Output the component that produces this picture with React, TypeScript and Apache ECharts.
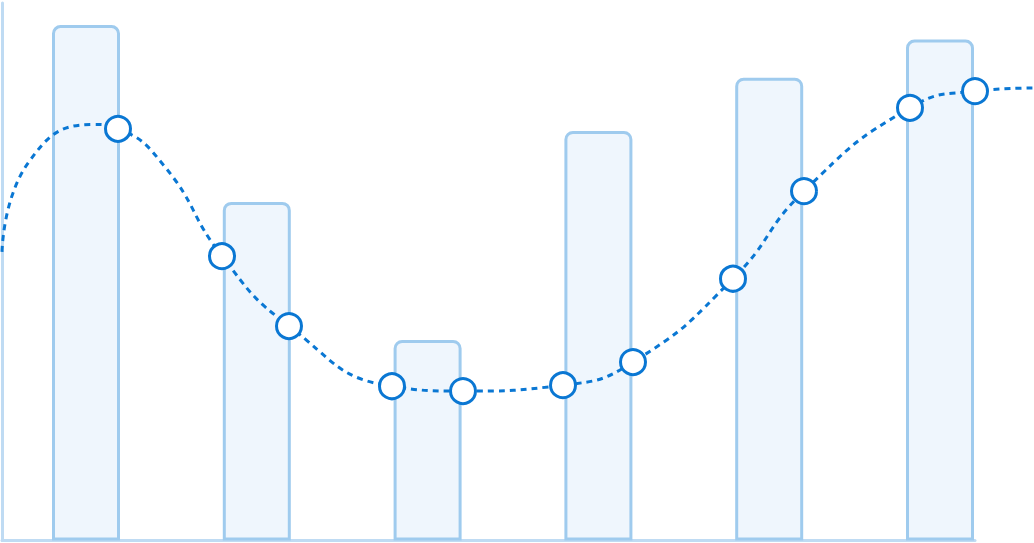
import React, { useEffect, useRef } from "react";
import * as echarts from "echarts";

// Bar categories and values (percent of plot height)
const categories = ["A", "B", "C", "D", "E", "F"];
const barValues = [95.9, 63.0, 37.3, 76.2, 86.1, 93.2];

// Line points: x position along the plot (0..1032), y value (percent), marker shown?
const lineX = [0, 26, 91, 116, 163, 220, 287, 390, 461, 561, 631, 731, 802, 908, 973, 1032];
const lineY = [53.7, 70.2, 77.4, 76.6, 69.5, 52.9, 39.9, 28.7, 27.8, 28.9, 33.2, 48.7, 65.0, 80.5, 83.6, 84.2];
const lineMarker = [false, false, false, true, false, true, true, true, true, true, true, true, true, true, true, false];

const AXIS_COLOR = "#bfdbf3";
const LINE_COLOR = "#0a77d3";

export default function App() {
  const ref = useRef<HTMLDivElement>(null);

  useEffect(() => {
    if (!ref.current) return;
    const chart = echarts.init(ref.current, undefined, { renderer: "svg" });

    const lineData = lineX.map((x, i) =>
      lineMarker[i]
        ? { value: [x, lineY[i]] }
        : { value: [x, lineY[i]], symbol: "none" }
    );

    const hidden = {
      axisLine: { show: false },
      axisTick: { show: false },
      axisLabel: { show: false },
      splitLine: { show: false },
    };

    chart.setOption({
      animation: false,
      grid: [
        { left: 0.6, right: 8.6, top: 3, bottom: 2.5 },
        { left: 2, right: 0, top: 3, bottom: 2.5 },
        { left: 2, right: 59, top: 3, bottom: 2.5 },
      ],
      xAxis: [
        { type: "category", gridIndex: 0, data: categories, show: false },
        { type: "value", gridIndex: 1, min: 0, max: 1032, show: false },
        {
          type: "value",
          gridIndex: 2,
          min: 0,
          max: 1,
          ...hidden,
          axisLine: { show: true, lineStyle: { color: AXIS_COLOR, width: 3 } },
        },
      ],
      yAxis: [
        { type: "value", gridIndex: 0, min: 0, max: 100, show: false },
        { type: "value", gridIndex: 1, min: 0, max: 100, show: false },
        {
          type: "value",
          gridIndex: 2,
          min: 0,
          max: 100,
          ...hidden,
          axisLine: { show: true, lineStyle: { color: AXIS_COLOR, width: 3 } },
        },
      ],
      series: [
        {
          type: "bar",
          xAxisIndex: 0,
          yAxisIndex: 0,
          data: barValues,
          barWidth: 68,
          itemStyle: {
            color: "#eff6fd",
            borderColor: "#9fcbee",
            borderWidth: 3,
            borderRadius: [7, 7, 0, 0],
          },
          silent: true,
        },
        {
          type: "line",
          xAxisIndex: 1,
          yAxisIndex: 1,
          data: lineData,
          smooth: true,
          clip: true,
          symbol: "circle",
          symbolSize: 25,
          showSymbol: true,
          lineStyle: { color: LINE_COLOR, width: 3, type: [6, 5] },
          itemStyle: { color: "#ffffff", borderColor: LINE_COLOR, borderWidth: 3 },
          z: 5,
          silent: true,
        },
      ],
    });

    return () => chart.dispose();
  }, []);

  return (
    <div
      ref={ref}
      style={{ position: "fixed", left: 0, top: 0, width: 1034, height: 543 }}
    />
  );
}
